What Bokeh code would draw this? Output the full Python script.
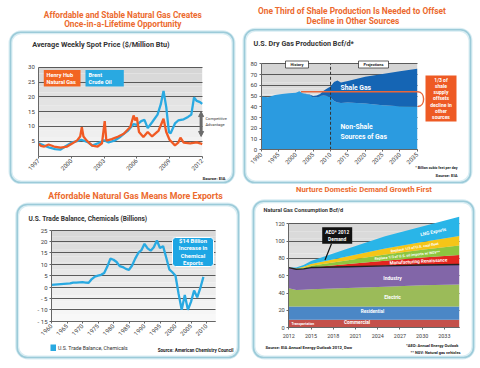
import numpy as np
from math import pi, radians
from bokeh.plotting import figure
from bokeh.models import (Label, BoxAnnotation, Arrow, NormalHead,
                          ColumnDataSource, FixedTicker)
from bokeh.layouts import column, row
from bokeh.embed import file_html
from bokeh.resources import INLINE

# ---------------- data ----------------
# Panel 1: average weekly spot price ($/Million Btu)
hh_year = [1997.0, 1997.2, 1997.5, 1997.9, 1998.4, 1999.0, 1999.6, 2000.1, 2000.5, 2000.8,
           2000.95, 2001.1, 2001.4, 2001.9, 2002.4, 2002.8, 2003.05, 2003.2, 2003.7, 2004.3,
           2004.8, 2005.4, 2005.7, 2005.85, 2006.0, 2006.2, 2006.6, 2007.0, 2007.4, 2008.0,
           2008.45, 2008.7, 2009.0, 2009.5, 2009.8, 2010.0, 2010.3, 2010.9, 2011.5, 2011.8, 2012.0]
hh_price = [4.1, 3.4, 3.2, 3.9, 3.2, 2.8, 3.2, 4.3, 5.2, 6.6,
            9.7, 6.6, 5.2, 3.5, 3.2, 4.3, 11.8, 5.2, 5.7, 6.6,
            7.5, 9.8, 13.7, 12.0, 13.0, 8.1, 6.4, 8.1, 6.6, 8.6,
            12.6, 8.1, 5.5, 3.6, 4.5, 6.2, 4.5, 4.3, 4.6, 4.3, 4.0]
br_year = [1997.0, 1997.5, 1998.0, 1998.5, 1999.0, 1999.5, 2000.0, 2000.5, 2000.9, 2001.5,
           2001.9, 2002.5, 2003.0, 2003.4, 2004.0, 2004.5, 2004.8, 2005.2, 2005.7, 2006.0,
           2006.4, 2006.7, 2007.0, 2007.4, 2007.9, 2008.2, 2008.45, 2008.7, 2008.95, 2009.1,
           2009.5, 2009.8, 2010.3, 2010.7, 2011.0, 2011.25, 2011.5, 2011.8, 2012.0]
br_price = [4.3, 3.5, 2.8, 2.3, 2.2, 3.4, 4.5, 5.0, 5.5, 4.7,
            3.5, 4.4, 5.3, 4.6, 5.3, 6.5, 7.5, 8.6, 10.8, 10.5,
            11.8, 12.2, 9.4, 11.4, 14.0, 17.5, 22.0, 16.5, 8.0, 7.7,
            11.0, 12.0, 12.4, 13.2, 14.0, 19.8, 18.6, 18.2, 17.6]
p1_xticks = [1997, 2000, 2003, 2006, 2009, 2012]
p1_yticks = [5, 10, 15, 20, 25, 30]

# Panel 2: U.S. dry gas production (Bcf/d)
gas_year = [1990, 1992, 1994, 1996, 1998, 2000, 2001, 2002, 2004, 2005, 2006, 2007, 2008,
            2009, 2010, 2011, 2012, 2013, 2015, 2020, 2025, 2030, 2035]
gas_total = [49.5, 49.0, 51.0, 52.0, 52.5, 53.0, 54.5, 52.5, 51.5, 50.0, 50.5, 52.0, 55.0,
             57.0, 59.0, 63.0, 64.5, 62.5, 64.0, 68.0, 70.5, 73.0, 75.3]
gas_nonshale = [49.5, 49.0, 51.0, 52.0, 52.5, 53.0, 54.5, 52.5, 51.0, 49.0, 49.0, 50.0, 50.5,
                50.0, 49.0, 45.5, 44.0, 43.5, 44.0, 43.0, 41.5, 40.5, 40.3]
offset_year = [2001.5, 2035.2]
offset_level = [54.0, 54.0]
p2_xticks = [1990, 1995, 2000, 2005, 2010, 2015, 2020, 2025, 2030, 2035]
p2_yticks = [0, 10, 20, 30, 40, 50, 60, 70, 80]

# Panel 3: U.S. trade balance, chemicals (billions)
tb_year = list(range(1960, 2010))
tb_value = [1.0, 1.1, 1.2, 1.3, 1.4, 1.5, 1.6, 2.0, 2.0, 2.1,
            2.2, 2.0, 1.9, 3.5, 4.6, 5.0, 5.4, 6.2, 9.0, 12.5,
            12.0, 11.0, 9.2, 8.8, 8.0, 7.6, 9.5, 12.5, 15.0, 16.2,
            19.0, 17.0, 16.0, 17.5, 20.5, 17.2, 18.0, 13.0, 7.8, 6.5,
            5.0, -3.0, -10.0, -3.5, -10.0, -6.5, -1.5, -4.5, -0.5, 4.5]
p3_xticks = [1960, 1965, 1970, 1975, 1980, 1985, 1990, 1995, 2000, 2005, 2010]
p3_yticks = [-15, -10, -5, 0, 5, 10, 15, 20, 25]

# Panel 4: natural gas consumption (Bcf/d), stacked
c_year = [2012, 2013, 2014, 2015, 2020, 2025, 2030, 2035]
c_trans = [0.7, 0.7, 0.7, 0.7, 0.7, 0.7, 0.7, 0.7]
c_comm = [8.5, 8.5, 8.5, 8.5, 8.5, 8.5, 8.5, 8.5]
c_resid = [15.3, 15.3, 15.3, 15.3, 15.3, 15.3, 15.3, 15.3]
c_elec = [21.0, 19.0, 19.3, 20.0, 21.5, 23.0, 24.5, 25.5]
c_ind = [24.0, 24.0, 24.2, 25.0, 24.5, 24.0, 23.5, 23.0]
c_manuf = [0.0, 0.0, 0.0, 0.0, 3.0, 6.0, 8.5, 11.0]
c_oil = [0.0, 0.5, 1.2, 2.0, 4.5, 7.0, 9.0, 11.0]
c_coal = [0.0, 0.5, 1.2, 2.0, 4.5, 7.0, 9.0, 11.0]
c_lng = [0.0, 1.0, 2.2, 3.5, 9.0, 14.0, 18.0, 22.0]
p4_xticks = [2012, 2015, 2018, 2021, 2024, 2027, 2030, 2033]
p4_yticks = [0, 20, 40, 60, 80, 100, 120]

# ---------------- helpers ----------------
W, H = 240, 184
FONT = "Roboto"
TITLE_C = "#ec6a2e"
AX_C = "#3c3c3c"


def lin_range(d0, d1, p0, p1, size):
    k = (d1 - d0) / (p1 - p0)
    return (d0 - p0 * k, d0 + (size - p0) * k)


def set_grid(p, ticks, x0, x1):
    g = p.ygrid[0]
    g.ticker = FixedTicker(ticks=ticks)
    g.grid_line_color = "#4a4a4a"
    g.grid_line_width = 0.9
    if "cross_bounds" in g.properties():
        g.cross_bounds = (x0, x1)
    else:
        g.grid_line_color = None
        p.segment(x0=[x0] * len(ticks), y0=ticks, x1=[x1] * len(ticks), y1=ticks,
                  line_color="#4a4a4a", line_width=0.9, level="underlay")


def make_panel(ox, oy, xd, xp, yd, yp):
    """xd/yd: data values of the chart corners, xp/yp: their pixel positions
    in the reference picture (x from left, y from top)."""
    xr = lin_range(xd[0], xd[1], xp[0] - ox, xp[1] - ox, W)
    yr = lin_range(yd[0], yd[1], H - (yp[0] - oy), H - (yp[1] - oy), H)
    p = figure(width=W, height=H, x_range=xr, y_range=yr, title=None, min_border=0,
               output_backend="svg", toolbar_location=None)
    p.outline_line_color = None
    p.background_fill_color = "white"
    p.border_fill_color = "white"
    p.xgrid.grid_line_color = None
    p.xaxis.fixed_location = yd[0]
    p.yaxis.fixed_location = xd[0]
    p.xaxis.bounds = (xd[0], xd[1])
    p.yaxis.bounds = (yd[0], yd[1])
    for ax in (p.xaxis, p.yaxis):
        ax.axis_line_color = "#666666"
        ax.major_tick_line_color = "#666666"
        ax.minor_tick_line_color = None
        ax.major_tick_in = 0
        ax.major_tick_out = 2
        ax.major_label_text_font = FONT
        ax.major_label_text_font_size = "6px"
        ax.major_label_text_color = AX_C
        ax.major_label_standoff = 2

    def S(rx, ry):
        return rx - ox, H - (ry - oy)
    return p, S


def text(p, S, rx, ry, txt, size, color="#333333", bold=True, align="left",
         baseline="middle", angle=0.0, lh=1.2):
    sx, sy = S(rx, ry)
    p.add_layout(Label(x=sx, y=sy, x_units="screen", y_units="screen", text=txt,
                       text_font=FONT, text_font_size=f"{size}px",
                       text_font_style="bold" if bold else "normal",
                       text_color=color, text_align=align, text_baseline=baseline,
                       angle=angle, text_line_height=lh))


def box(p, S, rx0, ry0, rx1, ry1, fill=None, line=None, lw=1.0, radius=0,
        level="annotation", line_alpha=1.0):
    l, t = S(rx0, ry0)
    r, b = S(rx1, ry1)
    p.add_layout(BoxAnnotation(left=l, right=r, top=t, bottom=b,
                               left_units="screen", right_units="screen",
                               top_units="screen", bottom_units="screen",
                               fill_color=fill if fill else "white",
                               fill_alpha=1.0 if fill else 0.0,
                               line_color=line, line_width=lw, line_alpha=line_alpha,
                               border_radius=radius, level=level))


def panel_frame(p, S, rx0, ry0, rx1, ry1):
    box(p, S, rx0, ry0, rx1, ry1, line="#d9edf3", lw=4, radius=11)
    box(p, S, rx0, ry0, rx1, ry1, line="#9ccbd9", lw=1.6, radius=10)


def gradient(p, x0, x1, y0, y1, top_c=(214, 214, 214), bot_c=(247, 247, 247), n=14):
    for i in range(n):
        f = i / (n - 1)
        c = tuple(int(round(top_c[k] + (bot_c[k] - top_c[k]) * f)) for k in range(3))
        hi = y1 - (y1 - y0) * i / n
        lo = y1 - (y1 - y0) * (i + 1) / n
        p.add_layout(BoxAnnotation(left=x0, right=x1, top=hi, bottom=lo,
                                   fill_color="#%02x%02x%02x" % c, fill_alpha=1.0,
                                   line_color=None, level="image"))


# ---------------- panel 1 ----------------
p1, S1 = make_panel(0, 0, (1997, 2012), (38.3, 201.7), (0, 30), (155.5, 66.7))
gradient(p1, 1997, 2012, 0, 30)
set_grid(p1, p1_yticks, 1997, 2012)
p1.xaxis.ticker = FixedTicker(ticks=p1_xticks)
p1.yaxis.ticker = FixedTicker(ticks=p1_yticks)
p1.xaxis.major_label_orientation = pi / 4
p1.yaxis.major_tick_line_color = None
p1.line(br_year, br_price, line_color="#29a9e1", line_width=2.3)
p1.line(hh_year, hh_price, line_color="#f05a24", line_width=2.3)
panel_frame(p1, S1, 10, 31.7, 233, 182)
text(p1, S1, 122.3, 14.2, "Affordable and Stable Natural Gas Creates", 8.3, TITLE_C, align="center")
text(p1, S1, 122.3, 23.8, "Once-in-a-Lifetime Opportunity", 8.3, TITLE_C, align="center")
text(p1, S1, 31.7, 43.6, "Average Weekly Spot Price ($/Million Btu)", 7.3, "#333333")
box(p1, S1, 43.3, 69.5, 80, 86, fill="#f26522")
text(p1, S1, 46, 77.8, "Henry Hub\nNatural Gas", 5.6, "white")
box(p1, S1, 85, 69.5, 123.3, 86, fill="#29a9e1")
text(p1, S1, 88, 77.8, "Brent\nCrude Oil", 5.6, "white")
p1.add_layout(Arrow(start=NormalHead(size=5, fill_color="#6b6b6b", line_color="#6b6b6b"),
                    end=NormalHead(size=5, fill_color="#6b6b6b", line_color="#6b6b6b"),
                    x_start=2011.9, y_start=15.0, x_end=2011.9, y_end=6.6,
                    line_color="#6b6b6b", line_width=3))
text(p1, S1, 205, 121, "Competitive\nAdvantage", 4.0, "#333333", bold=False)
text(p1, S1, 225, 177.5, "Source: EIA", 4.4, "#222222", align="right")

# ---------------- panel 2 ----------------
p2, S2 = make_panel(240, 0, (1990, 2035), (260.7, 416.7), (0, 80), (149.3, 63.3))
gradient(p2, 1990, 2035, 0, 80, top_c=(212, 212, 212), bot_c=(240, 240, 240))
set_grid(p2, p2_yticks, 1990, 2035)
p2.xaxis.ticker = FixedTicker(ticks=p2_xticks)
p2.yaxis.ticker = FixedTicker(ticks=p2_yticks)
p2.xaxis.major_label_orientation = pi / 4
p2.varea(x=gas_year, y1=0, y2=gas_nonshale, fill_color="#2b9be0")
p2.varea(x=gas_year, y1=gas_nonshale, y2=gas_total, fill_color="#1565b4")
p2.segment(x0=[2010], y0=[0], x1=[2010], y1=[80], line_color="#333333",
           line_dash="3 2", line_width=1)
p2.line(offset_year, offset_level, line_color="#e8663a", line_width=1.4)
p2.bezier(x0=[offset_year[1]], y0=[offset_level[1]], x1=[offset_year[1]], y1=[gas_nonshale[-1]],
          cx0=[offset_year[1] + 2.2], cy0=[offset_level[1]],
          cx1=[offset_year[1] + 2.2], cy1=[gas_nonshale[-1]],
          line_color="#e8663a", line_width=1.4)
panel_frame(p2, S2, 244, 29.3, 470, 182)
text(p2, S2, 351.5, 10.2, "One Third of Shale Production Is Needed to Offset", 8.4, TITLE_C, align="center")
text(p2, S2, 352.5, 20.2, "Decline in Other Sources", 8.4, TITLE_C, align="center")
text(p2, S2, 253, 43.2, "U.S. Dry Gas Production Bcf/d*", 7.2, "#333333")
box(p2, S2, 285, 60.5, 308, 67.5, fill="white", line="#222222", lw=0.7)
text(p2, S2, 296.5, 64, "History", 4.0, "#222222", align="center")
box(p2, S2, 358, 60.5, 388, 67.5, fill="white", line="#222222", lw=0.7)
text(p2, S2, 373, 64, "Projections", 3.9, "#222222", align="center")
text(p2, S2, 340, 87.5, "Shale Gas", 6.8, "white")
text(p2, S2, 340, 131.5, "Non-Shale\nSources of Gas", 6.8, "white")
box(p2, S2, 425, 75, 456, 121, fill="#ee5a24")
text(p2, S2, 440.5, 98, "1/3 of\nshale\nsupply\noffsets\ndecline in\nother\nsources", 5.0, "white",
     align="center", lh=1.05)
text(p2, S2, 457, 167, "* Billion cubic feet per day", 3.6, "#222222", align="right")
text(p2, S2, 457, 175, "Source: EIA", 4.2, "#222222", align="right")

# ---------------- panel 3 ----------------
p3, S3 = make_panel(0, 184, (1960, 2010), (51.0, 206.0), (-15, 25), (320.7, 229.7))
gradient(p3, 1960, 2013, -15, 25, top_c=(216, 216, 216), bot_c=(248, 248, 248))
set_grid(p3, p3_yticks, 1960, 2013)
p3.xaxis.bounds = (1960, 2013)
p3.xaxis.ticker = FixedTicker(ticks=p3_xticks)
p3.yaxis.ticker = FixedTicker(ticks=p3_yticks)
p3.yaxis.major_label_overrides = {-5: "- 5", -10: "- 10", -15: "- 15"}
p3.xaxis.major_label_orientation = pi / 4
p3.line(tb_year, tb_value, line_color="#29a9e1", line_width=2.3)
panel_frame(p3, S3, 16.7, 204, 238, 357)
text(p3, S3, 135, 195.5, "Affordable Natural Gas Means More Exports", 8.8, TITLE_C, align="center")
text(p3, S3, 28, 218.5, "U.S. Trade Balance, Chemicals (Billions)", 6.6, "#333333")
box(p3, S3, 172, 237, 213, 266, fill="#1da6e4", line="white", lw=1, radius=3)
text(p3, S3, 192.5, 251.5, "$14 Billion\nIncrease in\nChemical\nExports", 5.8, "white",
     align="center", lh=1.2)
box(p3, S3, 50, 344, 55.5, 350.5, fill="#29a9e1")
text(p3, S3, 57.5, 347.3, "U.S. Trade Balance, Chemicals", 5.2, "#333333", bold=False)
text(p3, S3, 233, 350, "Source: American Chemistry Council", 4.6, "#222222", align="right")

# ---------------- panel 4 ----------------
p4, S4 = make_panel(240, 184, (2012, 2035), (288.3, 458.7), (0, 120), (327.3, 223.3))
gradient(p4, 2012, 2035, 0, 120, top_c=(216, 216, 216), bot_c=(242, 242, 242))
set_grid(p4, p4_yticks, 2012, 2035)
p4.xaxis.ticker = FixedTicker(ticks=p4_xticks)
p4.yaxis.ticker = FixedTicker(ticks=p4_yticks)
p4.xaxis.major_label_text_font_size = "5.4px"
p4.yaxis.major_label_text_font_size = "5.7px"
p4.xaxis.major_label_standoff = 4
src4 = ColumnDataSource(dict(year=c_year, trans=c_trans, comm=c_comm, resid=c_resid,
                             elec=c_elec, ind=c_ind, manuf=c_manuf, oil=c_oil,
                             coal=c_coal, lng=c_lng))
p4.varea_stack(["trans", "comm", "resid", "elec", "ind", "manuf", "oil", "coal", "lng"],
               x="year", source=src4,
               color=["#b94a40", "#c4504a", "#4b87c6", "#9bbb59", "#8266a8",
                      "#e3261f", "#8dc63f", "#f5c518", "#29b5e8"])
aeo_total = (np.array(c_trans) + np.array(c_comm) + np.array(c_resid) +
             np.array(c_elec) + np.array(c_ind))
p4.line(c_year, aeo_total, line_color="#222222", line_width=1.4)
panel_frame(p4, S4, 253, 200.7, 473, 357)
text(p4, S4, 363.5, 189, "Nurture Domestic Demand Growth First", 7.7, TITLE_C, align="center")
text(p4, S4, 263, 209.3, "Natural Gas Consumption Bcf/d", 5.6, "#333333")
box(p4, S4, 321.7, 226.7, 351.7, 243.3, fill="#111111")
text(p4, S4, 336.7, 235, "AEO* 2012\nDemand", 4.9, "white", align="center")
a1 = S4(331, 243.3)
a2 = S4(324.5, 259.5)
p4.add_layout(Arrow(end=None, x_start=a1[0], y_start=a1[1], x_end=a2[0], y_end=a2[1],
                    start_units="screen", end_units="screen",
                    line_color="#111111", line_width=1.2))


def dlabel(p, x, y, txt, size, angle_deg=0.0):
    p.add_layout(Label(x=x, y=y, text=txt, text_font=FONT, text_font_size=f"{size}px",
                       text_font_style="bold", text_color="white", text_align="center",
                       text_baseline="middle", angle=radians(angle_deg)))


dlabel(p4, 2031.5, 110.5, "LNG Exports", 4.7, 12)
dlabel(p4, 2029.0, 92.5, "Replace 1/3 of U.S. coal fleet", 3.7, 9)
dlabel(p4, 2028.0, 83.3, "Replace 1/3 of U.S. oil imports w/ NGV**", 3.6, 6)
dlabel(p4, 2029.5, 76.6, "Manufacturing Renaissance", 4.6, 3)
dlabel(p4, 2026.0, 58, "Industry", 5.0)
dlabel(p4, 2026.0, 35, "Electric", 4.9)
dlabel(p4, 2023.3, 18.5, "Residential", 4.7)
dlabel(p4, 2021.2, 5.8, "Commercial", 4.8)
dlabel(p4, 2013.9, 4.0, "Transportation", 3.4)
text(p4, S4, 265, 347, "Source: EIA Annual Energy Outlook 2012, Dow", 4.2, "#222222")
text(p4, S4, 458, 344.7, "*AEO: Annual Energy Outlook", 4.0, "#222222", align="right")
text(p4, S4, 460, 352.3, "** NGV: Natural gas vehicles", 3.9, "#222222", align="right")

layout = column(row(p1, p2), row(p3, p4))
open("out.html", "w").write(file_html(layout, INLINE))
